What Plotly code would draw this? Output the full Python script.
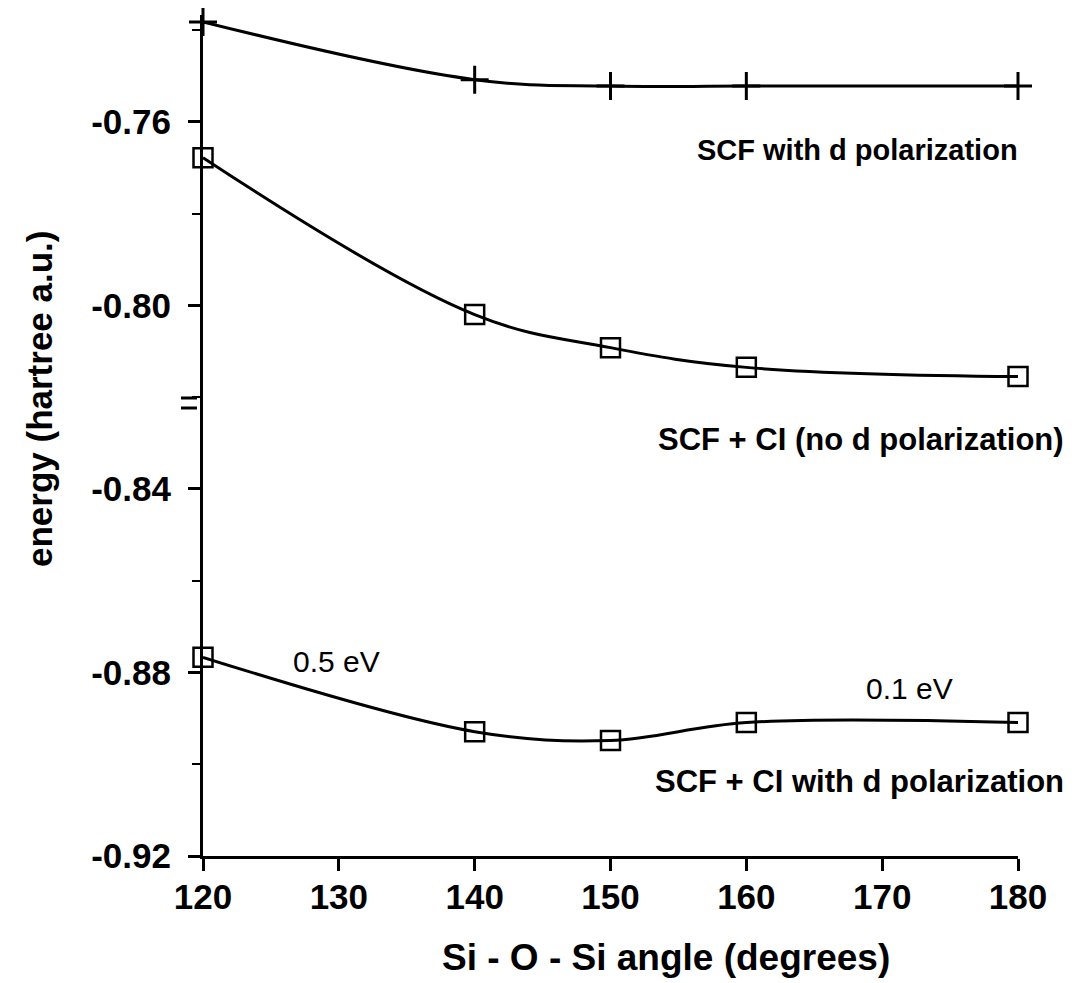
import plotly.graph_objects as go

angles = [120, 140, 150, 160, 180]
scf_d = [-0.7382, -0.7508, -0.7522, -0.7522, -0.7522]
scf_ci_nod = [-0.7678, -0.8020, -0.8092, -0.8135, -0.8155]
scf_ci_d = [-0.8767, -0.8929, -0.8948, -0.8909, -0.8909]

x_ticks = [120, 130, 140, 150, 160, 170, 180]
y_major = [-0.92, -0.88, -0.84, -0.80, -0.76]
y_labels = ["-0.92", "-0.88", "-0.84", "-0.80", "-0.76"]

FONT = "Liberation Sans, Arial, sans-serif"
W, H = 1087, 983
ml, mr, mt, mb = 203, 69, 15, 127
pw, ph = W - ml - mr, H - mt - mb

fig = go.Figure()
fig.add_trace(go.Scatter(x=angles, y=scf_d, mode="lines+markers",
                         line=dict(color="black", width=3, shape="spline", smoothing=1.1),
                         marker=dict(symbol="cross-thin", size=20, line=dict(color="black", width=3)),
                         showlegend=False, cliponaxis=False))
fig.add_trace(go.Scatter(x=angles, y=scf_ci_nod, mode="lines+markers",
                         line=dict(color="black", width=3, shape="spline", smoothing=1.1),
                         marker=dict(symbol="square-open", size=19, color="black", line=dict(color="black", width=2.5)),
                         showlegend=False, cliponaxis=False))
fig.add_trace(go.Scatter(x=angles, y=scf_ci_d, mode="lines+markers",
                         line=dict(color="black", width=3, shape="spline", smoothing=1.0),
                         marker=dict(symbol="square-open", size=19, color="black", line=dict(color="black", width=2.5)),
                         showlegend=False, cliponaxis=False))

annos = [
    dict(x=1020, y=150, text="<b>SCF with d polarization</b>", xanchor="right", size=29, angle=0),
    dict(x=1066, y=440, text="<b>SCF + CI (no d polarization)</b>", xanchor="right", size=31, angle=0),
    dict(x=1066, y=781, text="<b>SCF + CI with d polarization</b>", xanchor="right", size=31, angle=0),
    dict(x=336, y=661, text="0.5 eV", xanchor="center", size=30, angle=0),
    dict(x=909, y=688, text="0.1 eV", xanchor="center", size=30, angle=0),
    dict(x=666, y=957, text="<b>Si - O - Si angle (degrees)</b>", xanchor="center", size=37, angle=0),
    dict(x=39, y=399, text="<b>energy (hartree a.u.)</b>", xanchor="center", size=35, angle=-90),
]
for a in annos:
    fig.add_annotation(x=(a["x"] - ml) / pw, y=1 - (a["y"] - mt) / ph, xref="paper", yref="paper",
                       text=a["text"], showarrow=False, xanchor=a["xanchor"], yanchor="middle",
                       textangle=a["angle"],
                       font=dict(family=FONT, size=a["size"], color="black"))

# axis break mark
for yy in [398, 408]:
    fig.add_shape(type="line", xref="paper", yref="paper",
                  x0=(181 - ml) / pw, x1=(197 - ml) / pw,
                  y0=1 - (yy - mt) / ph, y1=1 - (yy - mt) / ph,
                  line=dict(color="black", width=3))

fig.update_layout(
    width=W, height=H,
    margin=dict(l=ml, r=mr, t=mt, b=mb),
    paper_bgcolor="white", plot_bgcolor="white",
    font=dict(family=FONT, color="black"),
    xaxis=dict(range=[120, 180], tickvals=x_ticks, ticktext=[f"<b>{v}</b>" for v in x_ticks],
               showgrid=False, zeroline=False, showline=True, linecolor="black", linewidth=3,
               ticks="outside", ticklen=12, tickwidth=3, tickcolor="black",
               tickfont=dict(size=35, family=FONT), ticklabelstandoff=-4),
    yaxis=dict(range=[-0.92, -0.7367], tickvals=y_major, ticktext=[f"<b>{t}</b>" for t in y_labels],
               showgrid=False, zeroline=False, showline=True, linecolor="black", linewidth=3,
               ticks="outside", ticklen=12, tickwidth=3, tickcolor="black",
               tickfont=dict(size=35, family=FONT), ticklabelstandoff=10,
               minor=dict(dtick=0.02, tick0=-0.92, ticks="outside", ticklen=8, tickwidth=2, tickcolor="black")),
)

fig.write_html("out.html")
